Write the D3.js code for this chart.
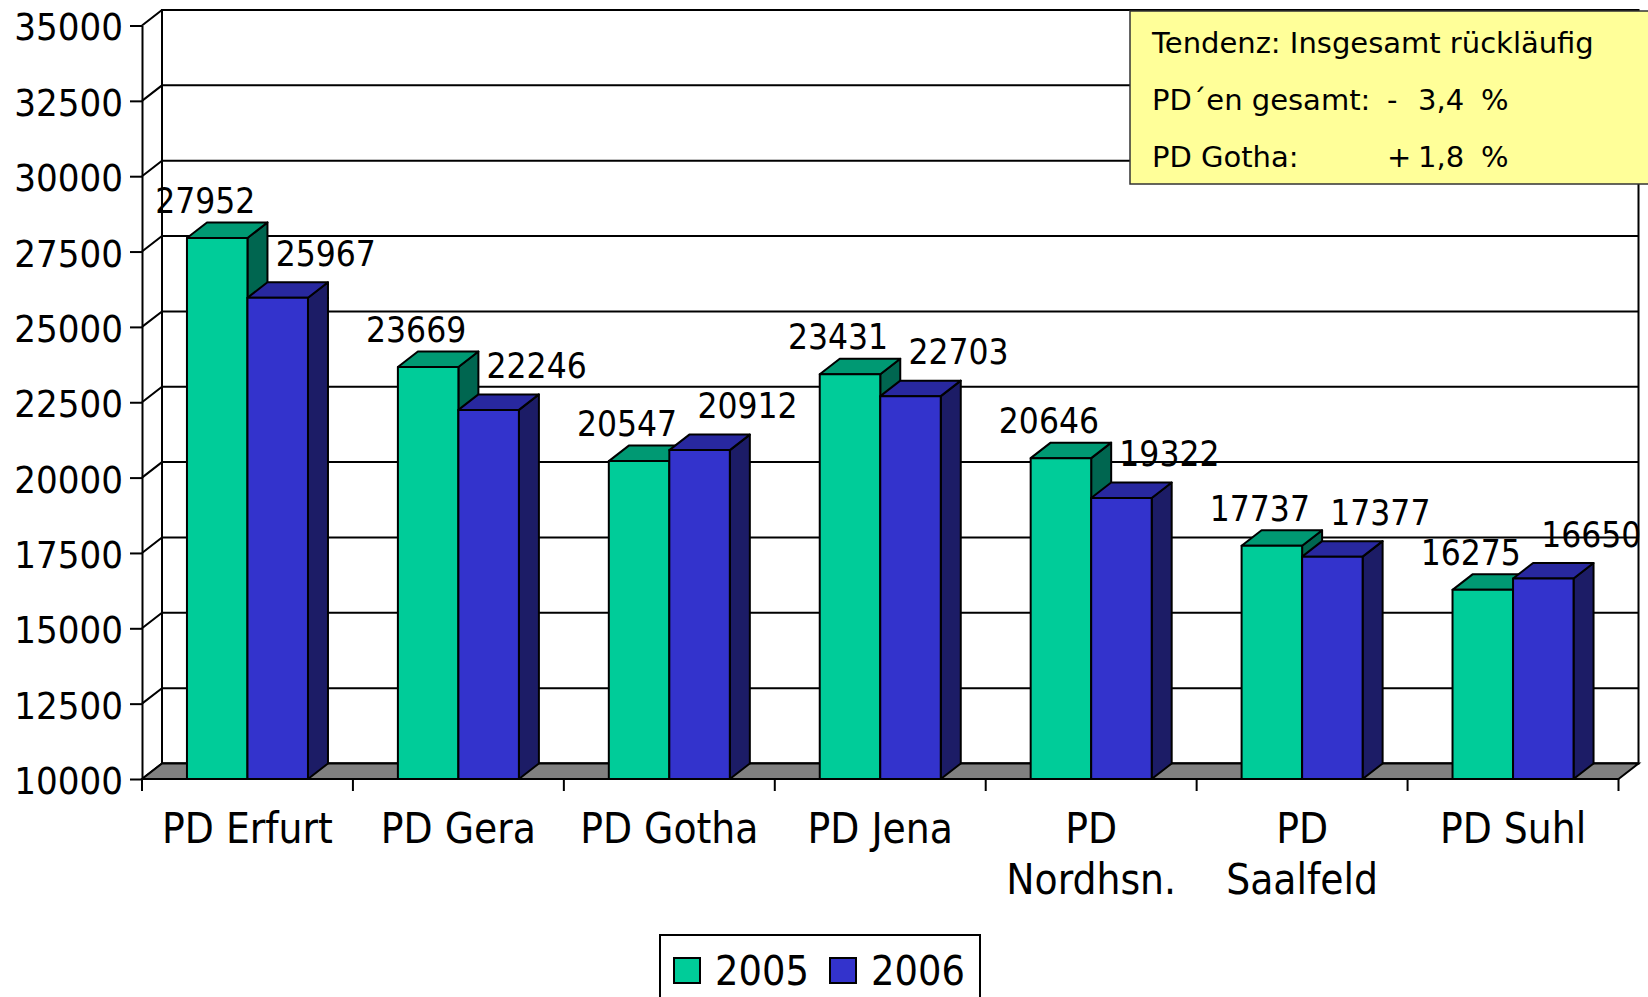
<!DOCTYPE html>
<html>
<head>
<meta charset="utf-8">
<script src="https://cdn.jsdelivr.net/npm/d3@7"></script>
<style>
body { margin: 0; background: #fff; }
svg { display: block; font-family: "DejaVu Sans Condensed", "DejaVu Sans", sans-serif; }
</style>
</head>
<body>
<div class="container"></div>
<script>
// Daten
var categories = ["PD Erfurt", "PD Gera", "PD Gotha", "PD Jena", "PD Nordhsn.", "PD Saalfeld", "PD Suhl"];
var years = ["2005", "2006"];
var values2005 = [27952, 23669, 20547, 23431, 20646, 17737, 16275];
var values2006 = [25967, 22246, 20912, 22703, 19322, 17377, 16650];
var yTicks = [10000, 12500, 15000, 17500, 20000, 22500, 25000, 27500, 30000, 32500, 35000];
var noteLines = [
  ["Tendenz: Insgesamt rückläufig"],
  ["PD´en gesamt:", "-", "3,4", "%"],
  ["PD Gotha:", "+", "1,8", "%"]
];

// Canvas
var W = 1648, H = 997;
var plot = {left: 142, right: 1618.5, top: 25.5, bottom: 779};
var dx = 20, dy = 15.5;

var svg = d3.select(".container")
  .append("svg")
  .attr("width", W)
  .attr("height", H);

var y = d3.scaleLinear().domain([10000, 35000]).range([plot.bottom, plot.top]);
var x = d3.scaleBand().domain(categories).range([plot.left, plot.right]);
var xs = d3.scaleBand().domain(years).range([0, x.bandwidth()]).paddingOuter(0.743);

var front = d3.scaleOrdinal().domain(years).range(["#00CC99", "#3333CC"]);
var topC = d3.scaleOrdinal().domain(years).range(["#009973", "#28289F"]);
var sideC = d3.scaleOrdinal().domain(years).range(["#006650", "#1C1C66"]);
// Beschriftungen wie im Original etwas versetzt
var lblX = d3.scaleOrdinal().domain(years).range([-12, 48]);
var lblY = d3.scaleOrdinal().domain(years).range([25, 32]);

// Waende
svg.append("rect")
  .attr("x", plot.left + dx).attr("y", plot.top - dy)
  .attr("width", plot.right - plot.left).attr("height", plot.bottom - plot.top)
  .attr("fill", "#fff").attr("stroke", "#000").attr("stroke-width", 2);

svg.append("g").selectAll("polyline")
  .data(yTicks)
  .enter()
  .append("polyline")
  .attr("points", function(d) {
    var yy = y(d);
    return [[plot.left, yy], [plot.left + dx, yy - dy], [plot.right + dx, yy - dy]].join(" ");
  })
  .attr("fill", "none").attr("stroke", "#000").attr("stroke-width", 2);

// Boden
svg.append("polygon")
  .attr("points", [[plot.left, plot.bottom], [plot.right, plot.bottom],
                   [plot.right + dx, plot.bottom - dy], [plot.left + dx, plot.bottom - dy]].join(" "))
  .attr("fill", "#808080").attr("stroke", "#000").attr("stroke-width", 2);

// Saeulen
var bars = [];
categories.forEach(function(c, i) {
  bars.push({cat: c, year: "2005", value: values2005[i]});
  bars.push({cat: c, year: "2006", value: values2006[i]});
});

var bw = xs.bandwidth();
var y0 = y(10000);

var bar = svg.append("g").selectAll("g")
  .data(bars)
  .enter()
  .append("g")
  .attr("stroke", "#000").attr("stroke-width", 2).attr("stroke-linejoin", "round");

bar.append("polygon")
  .attr("points", function(d) {
    var x0 = x(d.cat) + xs(d.year), yt = y(d.value);
    return [[x0 + bw, yt], [x0 + bw + dx, yt - dy], [x0 + bw + dx, y0 - dy], [x0 + bw, y0]].join(" ");
  })
  .attr("fill", function(d) { return sideC(d.year); });

bar.append("polygon")
  .attr("points", function(d) {
    var x0 = x(d.cat) + xs(d.year), yt = y(d.value);
    return [[x0, yt], [x0 + dx, yt - dy], [x0 + bw + dx, yt - dy], [x0 + bw, yt]].join(" ");
  })
  .attr("fill", function(d) { return topC(d.year); });

bar.append("rect")
  .attr("x", function(d) { return x(d.cat) + xs(d.year); })
  .attr("y", function(d) { return y(d.value); })
  .attr("width", bw)
  .attr("height", function(d) { return y0 - y(d.value); })
  .attr("fill", function(d) { return front(d.year); });

// Werte
svg.append("g").selectAll("text")
  .data(bars)
  .enter()
  .append("text")
  .attr("x", function(d) { return x(d.cat) + xs(d.year) + bw / 2 + lblX(d.year); })
  .attr("y", function(d) { return y(d.value) - lblY(d.year); })
  .attr("text-anchor", "middle")
  .attr("font-size", 35)
  .text(function(d) { return d.value; });

// Y-Achse
var yAxis = d3.axisLeft(y).tickValues(yTicks).tickSize(12).tickSizeOuter(0).tickPadding(7)
  .tickFormat(d3.format("d"));
var ya = svg.append("g")
  .attr("transform", "translate(" + plot.left + ",0)")
  .call(yAxis);
ya.attr("font-family", null).attr("font-size", 38);
ya.selectAll("path, line").attr("stroke", "#000").attr("stroke-width", 2);
ya.selectAll("text").attr("fill", "#000").attr("dy", "0.38em");

// X-Achse
var xa = svg.append("g");
xa.selectAll("line")
  .data(categories.map(function(c) { return x(c); }).concat([plot.right]))
  .enter()
  .append("line")
  .attr("x1", function(d) { return d; }).attr("x2", function(d) { return d; })
  .attr("y1", plot.bottom).attr("y2", plot.bottom + 12)
  .attr("stroke", "#000").attr("stroke-width", 2);

var catText = xa.selectAll("text")
  .data(categories)
  .enter()
  .append("text")
  .attr("x", function(d) { return x(d) + x.bandwidth() / 2; })
  .attr("y", 843)
  .attr("text-anchor", "middle")
  .attr("font-size", 42);

catText.each(function(d) {
  var t = d3.select(this);
  t.text(d);
  if (this.getComputedTextLength() > 200) {
    t.text(null);
    d.split(" ").forEach(function(w, k) {
      t.append("tspan")
        .attr("x", x(d) + x.bandwidth() / 2)
        .attr("dy", k === 0 ? 0 : 51)
        .text(w);
    });
  }
});

// Legende
var lg = svg.append("g").attr("transform", "translate(660,935)");
lg.append("rect")
  .attr("width", 320).attr("height", 80)
  .attr("fill", "#fff").attr("stroke", "#000").attr("stroke-width", 2);
var item = lg.selectAll("g")
  .data(years)
  .enter()
  .append("g")
  .attr("transform", function(d, i) { return "translate(" + (14 + i * 156) + ",0)"; });
item.append("rect")
  .attr("y", 23).attr("width", 26).attr("height", 25)
  .attr("fill", function(d) { return front(d); })
  .attr("stroke", "#000").attr("stroke-width", 2);
item.append("text")
  .attr("x", 41).attr("y", 50)
  .attr("font-size", 41)
  .text(function(d) { return d; });

// Hinweisbox
var nb = svg.append("g").attr("transform", "translate(1130,11)")
  .attr("font-family", "'DejaVu Sans', sans-serif")
  .attr("font-size", 29);
nb.append("rect")
  .attr("width", 530).attr("height", 173)
  .attr("fill", "#FFFF99").attr("stroke", "#333").attr("stroke-width", 1.5);
var colX = [22, 257, 288, 351];
noteLines.forEach(function(line, r) {
  line.forEach(function(s, k) {
    nb.append("text")
      .attr("x", colX[k])
      .attr("y", 42.3 + r * 56.8)
      .text(s);
  });
});
</script>
</body>
</html>
